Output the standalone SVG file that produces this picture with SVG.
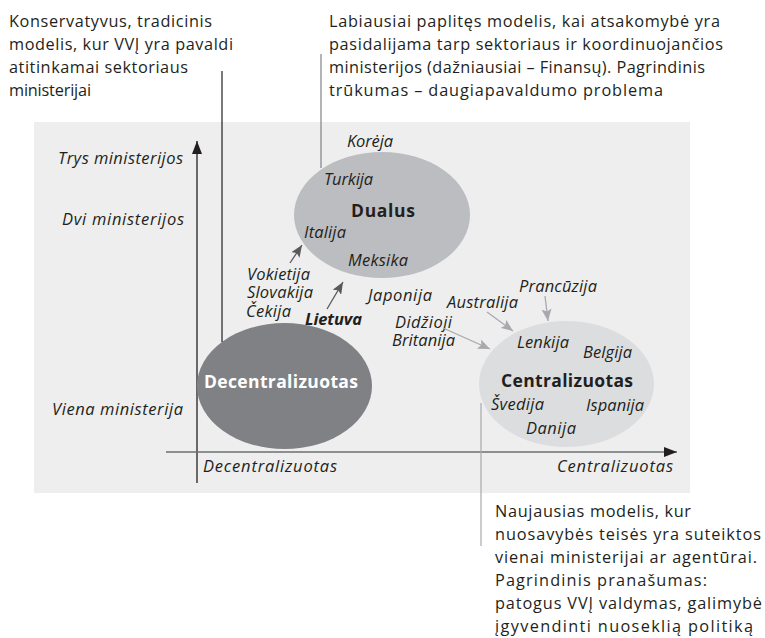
<svg xmlns="http://www.w3.org/2000/svg" width="765" height="638" viewBox="0 0 765 638">
<style>
text{font-family:"Open Sans","Noto Sans","Liberation Sans",sans-serif;fill:#231f20}
.p{font-size:16.3px}
.i{font-size:16.5px;font-style:italic}
.b{font-weight:bold;font-size:17.5px}
.lead{fill:none;stroke-width:1.2}
</style>
<defs>
<marker id="ahAxis" markerUnits="userSpaceOnUse" markerWidth="14" markerHeight="10" refX="13" refY="5" orient="auto"><path d="M0,0 L13,5 L0,10 z" fill="#231f20"/></marker>
<marker id="ahDark" markerUnits="userSpaceOnUse" markerWidth="13" markerHeight="10" refX="12" refY="5" orient="auto"><path d="M0,0 L12,5 L0,10 L2.5,5 z" fill="#58595b"/></marker>
<marker id="ahLight" markerUnits="userSpaceOnUse" markerWidth="13" markerHeight="10" refX="12" refY="5" orient="auto"><path d="M0,0 L12,5 L0,10 L2.5,5 z" fill="#a7a9ac"/></marker>
</defs>
<rect x="34" y="122" width="656" height="371" fill="#eeeeee"/>

<g id="axes">
<line x1="197" y1="483" x2="197" y2="141" stroke="#231f20" stroke-width="1.3" marker-end="url(#ahAxis)"/>
<line x1="166" y1="452" x2="677" y2="452" stroke="#6d6e71" stroke-width="1.5" marker-end="url(#ahAxis)"/>
<text class="i" x="58" y="164" textLength="125">Trys ministerijos</text>
<text class="i" x="62" y="225" textLength="122">Dvi ministerijos</text>
<text class="i" x="52" y="415" textLength="131">Viena ministerija</text>
<text class="i" x="203" y="472" textLength="134">Decentralizuotas</text>
<text class="i" x="557" y="472" textLength="116">Centralizuotas</text>
</g>

<g id="node-dualus">
<ellipse cx="382" cy="215" rx="88" ry="63" fill="#bcbdc0"/>
<text class="b" x="383" y="217" text-anchor="middle" textLength="64">Dualus</text>
<text class="i" x="347" y="147" textLength="46">Korėja</text>
<text class="i" x="324" y="185" textLength="49">Turkija</text>
<text class="i" x="304" y="238" textLength="42">Italija</text>
<text class="i" x="348" y="266" textLength="60">Meksika</text>
</g>

<g id="node-decentralizuotas">
<ellipse cx="284.5" cy="386" rx="87.5" ry="63" fill="#808184"/>
<text class="b" x="281" y="388" text-anchor="middle" textLength="154" style="fill:#ffffff">Decentralizuotas</text>
</g>

<g id="node-centralizuotas">
<ellipse cx="566.5" cy="384" rx="87.5" ry="63" fill="#dcdddf"/>
<text class="b" x="567" y="387" text-anchor="middle" textLength="132">Centralizuotas</text>
<text class="i" x="517" y="348" textLength="52">Lenkija</text>
<text class="i" x="583" y="358" textLength="49">Belgija</text>
<text class="i" x="491" y="410" textLength="53">Švedija</text>
<text class="i" x="586" y="411" textLength="58">Ispanija</text>
<text class="i" x="526" y="434" textLength="50">Danija</text>
</g>

<g id="countries">
<text class="i" x="247" y="280" textLength="63">Vokietija</text>
<text class="i" x="247" y="298" textLength="66">Slovakija</text>
<text class="i" x="246" y="317" textLength="45">Čekija</text>
<text class="i" x="305" y="325" textLength="57" style="font-weight:bold">Lietuva</text>
<text class="i" x="368" y="301" textLength="64">Japonija</text>
<text class="i" x="395" y="328" textLength="57">Didžioji</text>
<text class="i" x="392" y="346" textLength="63">Britanija</text>
<text class="i" x="447" y="308" textLength="71">Australija</text>
<text class="i" x="519" y="292" textLength="78">Prancūzija</text>
</g>

<g id="note-konservatyvus">
<text class="p" x="9" y="27" textLength="203">Konservatyvus, tradicinis</text>
<text class="p" x="9" y="50" textLength="224">modelis, kur VVĮ yra pavaldi</text>
<text class="p" x="9" y="73" textLength="179">atitinkamai sektoriaus</text>
<text class="p" x="9" y="96" textLength="82">ministerijai</text>
</g>

<g id="note-dualus">
<text class="p" x="329" y="27" textLength="391">Labiausiai paplitęs modelis, kai atsakomybė yra</text>
<text class="p" x="329" y="50" textLength="394">pasidalijama tarp sektoriaus ir koordinuojančios</text>
<text class="p" x="329" y="73" textLength="376">ministerijos (dažniausiai – Finansų). Pagrindinis</text>
<text class="p" x="329" y="96" textLength="334">trūkumas – daugiapavaldumo problema</text>
</g>

<g id="note-centralizuotas">
<text class="p" x="495" y="517" textLength="196">Naujausias modelis, kur</text>
<text class="p" x="495" y="540" textLength="266">nuosavybės teisės yra suteiktos</text>
<text class="p" x="495" y="563" textLength="262">vienai ministerijai ar agentūrai.</text>
<text class="p" x="495" y="586" textLength="212">Pagrindinis pranašumas:</text>
<text class="p" x="495" y="609" textLength="267">patogus VVĮ valdymas, galimybė</text>
<text class="p" x="495" y="632" textLength="258">įgyvendinti nuoseklią politiką</text>
</g>

<g id="connectors">
<line class="lead" x1="222" y1="71" x2="222" y2="342" stroke="#231f20"/>
<line class="lead" x1="321" y1="54" x2="321" y2="168" stroke="#808285"/>
<line class="lead" x1="481" y1="403" x2="481" y2="546" stroke="#a7a9ac"/>
<line x1="290" y1="263" x2="302" y2="245" stroke="#58595b" stroke-width="1.3" marker-end="url(#ahDark)"/>
<line x1="327" y1="309" x2="343" y2="282" stroke="#58595b" stroke-width="1.3" marker-end="url(#ahDark)"/>
<line x1="443" y1="328" x2="490" y2="349" stroke="#a7a9ac" stroke-width="1.3" marker-end="url(#ahLight)"/>
<line x1="487" y1="312" x2="513" y2="331" stroke="#a7a9ac" stroke-width="1.3" marker-end="url(#ahLight)"/>
<line x1="545" y1="296" x2="548" y2="321" stroke="#a7a9ac" stroke-width="1.3" marker-end="url(#ahLight)"/>
</g>
</svg>
